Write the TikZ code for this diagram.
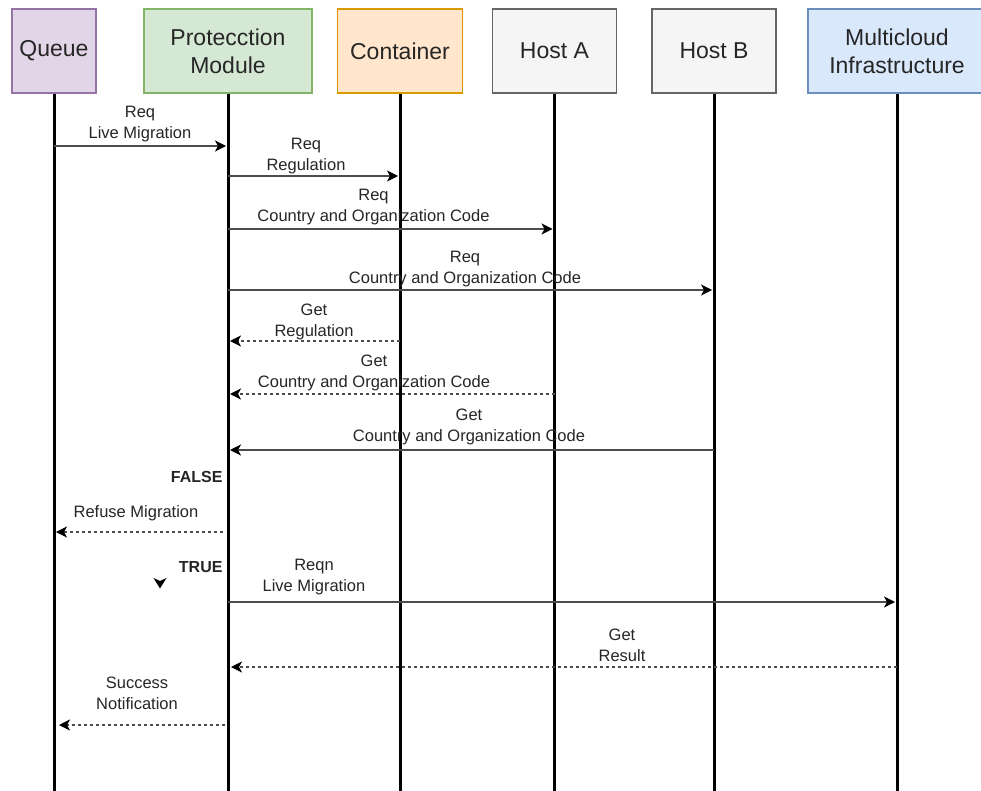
\documentclass[tikz,border=0pt]{standalone}
\usepackage{fontspec}
\setmainfont{Liberation Sans}
\usetikzlibrary{arrows.meta}

\definecolor{queueFill}{HTML}{E1D5E7}\definecolor{queueLine}{HTML}{9673A6}
\definecolor{pmFill}{HTML}{D5E8D4}\definecolor{pmLine}{HTML}{82B366}
\definecolor{ctFill}{HTML}{FFE6CC}\definecolor{ctLine}{HTML}{D79B00}
\definecolor{hostFill}{HTML}{F5F5F5}\definecolor{hostLine}{HTML}{666666}
\definecolor{mcFill}{HTML}{DAE8FC}\definecolor{mcLine}{HTML}{6C8EBF}

\begin{document}
\begin{tikzpicture}[x=1pt,y=-1pt,
  actor/.style={draw, line width=1.5pt, minimum height=84pt, inner sep=0pt,
    align=center, font=\fontsize{23}{28}\selectfont, text=black!85},
  lifeline/.style={line width=3pt},
  msg/.style={line width=1.4pt, draw=black!70, shorten >=2pt,
    -{Stealth[length=11pt,width=11pt,inset=3pt,color=black]}},
  reply/.style={msg, dash pattern=on 3pt off 3pt},
  lbl/.style={align=center, inner sep=0pt,
    font=\fontsize{16.5}{21}\selectfont, text=black!85},
  flag/.style={inner sep=0pt, font=\bfseries\fontsize{16}{19}\selectfont, text=black!85},
]
\useasboundingbox (0,0) rectangle (981,791);
\clip (0,0) rectangle (981,791);
\fill[white] (0,0) rectangle (981,791);

% participants
\node[actor, fill=queueFill, draw=queueLine, minimum width=84pt] (q)  at (54,51)  {Queue};
\node[actor, fill=pmFill, draw=pmLine, minimum width=168pt]      (pm) at (228,51) {Protecction\\Module};
\node[actor, fill=ctFill, draw=ctLine, minimum width=125pt]      (ct) at (400,51) {Container};
\node[actor, fill=hostFill, draw=hostLine, minimum width=124pt]  (ha) at (554.5,51) {Host A};
\node[actor, fill=hostFill, draw=hostLine, minimum width=124pt]  (hb) at (714,51) {Host B};
\node[actor, fill=mcFill, draw=mcLine, minimum width=178pt]      (mc) at (897,51) {Multicloud\\Infrastructure};

% lifelines
\coordinate (bottom) at (0,800);
\foreach \p in {q,pm,ct,ha,hb,mc}
  \draw[lifeline] (\p.south) -- (\p.south |- bottom);

% message rows
\coordinate (m1) at (0,146);
\coordinate (m2) at (0,176);
\coordinate (m3) at (0,229);
\coordinate (m4) at (0,290);
\coordinate (m5) at (0,341);
\coordinate (m6) at (0,394);
\coordinate (m7) at (0,450);
\coordinate (m9) at (0,532);
\coordinate (m11) at (0,602);
\coordinate (m12) at (0,667);
\coordinate (m13) at (0,725);

% messages
\draw[msg] (q |- m1) -- (pm |- m1);
\node[lbl] (l1) at (140,124.5) {Req\\Live Migration};

\draw[msg] (pm |- m2) -- (ct |- m2);
\node[lbl] (l2) at (306,156) {Req\\Regulation};

\draw[msg] (pm |- m3) -- (ha |- m3);
\node[lbl] (l3) at (373.5,207) {Req\\Country and Organization Code};

\draw[msg] (pm |- m4) -- (hb |- m4);
\node[lbl] (l4) at (465,269) {Req\\Country and Organization Code};

\draw[reply] (ct |- m5) -- (pm |- m5);
\node[lbl] (l5) at (314,321.5) {Get\\Regulation};

\draw[reply] (ha |- m6) -- (pm |- m6);
\node[lbl] (l6) at (374,372.5) {Get\\Country and Organization Code};

\draw[msg] (hb |- m7) -- (pm |- m7);
\node[lbl] (l7) at (469,426.5) {Get\\Country and Organization Code};

\node[flag, anchor=east] (false) at (222.7,476.7) {FALSE};

\draw[reply, shorten <=5pt] (pm |- m9) -- (q |- m9);
\node[lbl] (l9) at (136,513.3) {Refuse Migration};

\node[flag, anchor=east] (true) at (222.7,567.3) {TRUE};
\coordinate (tick) at (160,583);
\fill[black] ([shift={(-6.5,-5)}]tick) -- ([shift={(0,-2)}]tick) -- ([shift={(6.5,-5)}]tick) -- ([shift={(0,5.5)}]tick) -- cycle;

\draw[msg] (pm |- m11) -- (mc |- m11);
\node[lbl] (l11) at (314,577) {Reqn\\Live Migration};

\draw[reply, shorten >=3pt] (mc |- m12) -- (pm |- m12);
\node[lbl] (l12) at (622,645.5) {Get\\Result};

\draw[reply, shorten <=3pt, shorten >=5pt] (pm |- m13) -- (q |- m13);
\node[lbl] (l13) at (137,693.5) {Success\\Notification};
\end{tikzpicture}
\end{document}
